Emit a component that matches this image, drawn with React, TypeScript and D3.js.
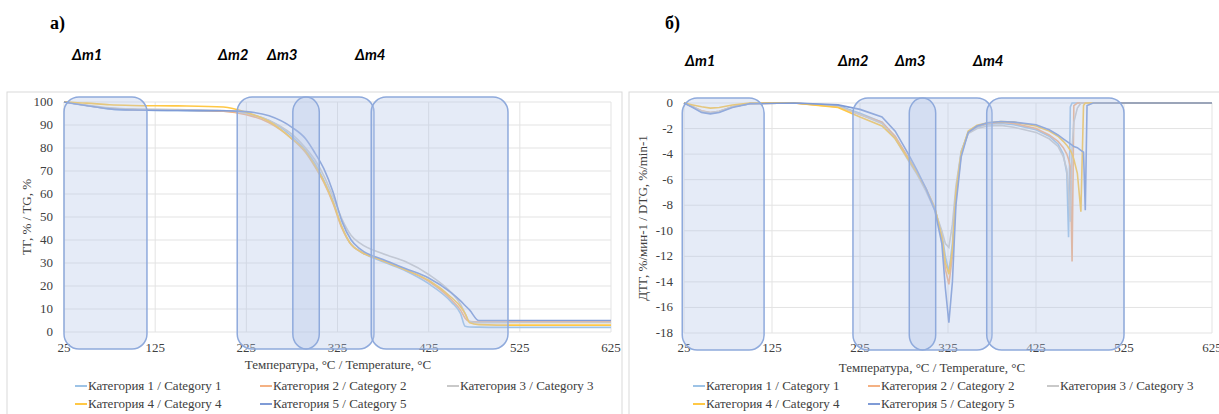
import * as d3 from 'd3';

// TG curves (left panel)
const tgTemps = [25, 50, 75, 100, 150, 200, 225, 250, 275, 290, 300, 310, 320, 330, 340, 350, 375, 400, 425, 450, 460, 465, 470, 480, 500, 550, 625];
const tgCat1 = [100, 98.5, 97, 96.5, 96.3, 96, 95, 92, 85, 79, 73.5, 66, 57, 45.5, 38, 35, 30.5, 26.5, 21, 13, 8, 2.5, 2.2, 2.1, 2, 2, 2];
const tgCat2 = [100, 98.5, 97.2, 96.7, 96.5, 96, 94.5, 91, 84, 78, 72, 65, 56, 45, 38, 35, 31, 27, 22, 14, 9.5, 6, 4.5, 4.3, 4.3, 4.3, 4.3];
const tgCat3 = [100, 98.6, 97.5, 97, 96.7, 96.3, 95, 92, 86, 80, 75, 68, 59, 49, 42, 38.5, 34, 30.5, 25, 17, 12, 8, 4.5, 4, 4, 4, 4];
const tgCat4 = [100, 99.5, 98.8, 98.5, 98.3, 97.8, 95.5, 91.5, 84, 78.5, 72.5, 65.5, 56.5, 45.5, 38, 35, 31, 27, 22.5, 15, 11, 8, 4, 3.2, 3, 3, 3];
const tgCat5 = [100, 98.4, 97, 96.5, 96.3, 96.2, 95.8, 94, 89, 84, 78, 71, 61, 48, 40, 36, 31.5, 27.5, 23.5, 17, 13.5, 11.5, 9.5, 5, 5, 5, 5];

// DTG curves (right panel)
const dtgTemps = [25, 35, 45, 55, 65, 80, 100, 150, 200, 225, 250, 265, 280, 290, 300, 310, 318, 322, 326, 330, 334, 340, 348, 358, 370, 385, 400, 425, 440, 450, 456, 460, 462, 464, 466, 468, 472, 476, 479, 481, 483, 490, 625];
const dtgCat1 = [0, -0.3, -0.7, -0.8, -0.7, -0.3, -0.05, 0, -0.2, -0.8, -1.5, -2.7, -4.3, -5.5, -6.8, -8.3, -10.2, -12, -13.2, -11, -7, -3.8, -2.3, -1.9, -1.65, -1.6, -1.7, -2.1, -2.6, -3.2, -4, -5.5, -10.5, -0.3, 0, 0, 0, 0, 0, 0, 0, 0, 0];
const dtgCat2 = [0, -0.3, -0.6, -0.75, -0.65, -0.3, -0.05, 0, -0.3, -0.9, -1.5, -2.6, -4.3, -5.5, -6.7, -8.2, -10.6, -13, -14.2, -12, -7.5, -4, -2.3, -1.8, -1.6, -1.5, -1.6, -2, -2.5, -3, -3.5, -4, -4.4, -5, -12.4, -0.2, 0, 0, 0, 0, 0, 0, 0];
const dtgCat3 = [0, -0.3, -0.65, -0.75, -0.65, -0.3, -0.05, 0, -0.25, -0.9, -1.6, -2.8, -4.5, -5.6, -6.9, -8.4, -10, -11, -11.3, -9.5, -6.5, -3.8, -2.4, -2, -1.8, -1.75, -1.9, -2.3, -2.8, -3.4, -4.2, -5.2, -7, -9.3, -3.5, -1.5, -0.4, 0, 0, 0, 0, 0, 0];
const dtgCat4 = [0, -0.15, -0.3, -0.4, -0.35, -0.15, 0, 0, -0.35, -1.1, -1.8, -2.8, -4.4, -5.5, -6.7, -8.2, -10.5, -12.5, -13.4, -11.5, -7, -3.9, -2.2, -1.75, -1.55, -1.45, -1.5, -1.8, -2.2, -2.6, -3, -3.3, -3.5, -3.7, -4, -4.4, -5.5, -8.5, -0.2, 0, 0, 0, 0];
const dtgCat5 = [0, -0.35, -0.75, -0.85, -0.75, -0.35, -0.05, 0, -0.15, -0.5, -1.1, -2.2, -4, -5.3, -6.7, -8.4, -11, -14.5, -17.2, -14, -8, -4.2, -2.3, -1.8, -1.55, -1.45, -1.5, -1.7, -2.1, -2.5, -2.8, -3, -3.1, -3.2, -3.3, -3.4, -3.5, -3.7, -3.85, -8.4, -0.2, 0, 0];

const xTicks = [25, 125, 225, 325, 425, 525, 625];
const tgTicks = [0, 10, 20, 30, 40, 50, 60, 70, 80, 90, 100];
const dtgTicks = [0, -2, -4, -6, -8, -10, -12, -14, -16, -18];

const seriesNames = ['Категория 1 / Category 1', 'Категория 2 / Category 2', 'Категория 3 / Category 3', 'Категория 4 / Category 4', 'Категория 5 / Category 5'];
const seriesColors = ['#9dc3e6', '#f4b183', '#c9c9c9', '#ffc845', '#7f9bd6'];

// mass-loss stage zones, °C
const stageLabels = ['Δm1', 'Δm2', 'Δm3', 'Δm4'];
const tgZones = [[25, 116], [215, 365], [276, 305], [362, 512]];
const dtgZones = [[23, 116], [217, 375], [281, 311], [369, 525]];

const serif = { fontFamily: 'Liberation Serif, DejaVu Serif, serif' };
const TXT = '#404040';

function Panel({ left, top, x0, x1, y0, y1, yDomain, yTicks, temps, series, zones, curve, letter, letterX, labelXs, labelY, yTitle, yTitleX, xTitleX, xTitleY, legendXs }) {
  const x = d3.scaleLinear().domain([25, 625]).range([x0, x1]);
  const y = d3.scaleLinear().domain(yDomain).range([y1, y0]);
  const line = d3.line<number>().x((_, i) => x(temps[i])).y(d => y(d)).curve(curve);
  const legendRows = [0, 0, 0, 1, 1];
  const legendCols = [0, 1, 2, 0, 1];
  return (
    <g>
      <rect x={left} y={top} width={615} height={400} fill="#fff" stroke="#d9d9d9" />
      <text x={letterX} y={29} style={serif} fontWeight="bold" fontSize={18} fill="#000">{letter}</text>
      {stageLabels.map((s, i) => (
        <text key={s} x={labelXs[i]} y={labelY} style={{ fontFamily: 'Lato, Open Sans, sans-serif' }} fontStyle="italic" fontWeight="bold" fontSize={15} fill="#000">{s}</text>
      ))}
      {yTicks.map(t => (
        <g key={t}>
          <line x1={x0} x2={x1} y1={y(t)} y2={y(t)} stroke="#e3e3e3" />
          <text x={x0 - 11} y={y(t) + 4} textAnchor="end" style={serif} fontSize={13} fill={TXT}>{t}</text>
        </g>
      ))}
      {xTicks.map(t => (
        <g key={t}>
          <line x1={x(t)} x2={x(t)} y1={y0} y2={y1} stroke="#e3e3e3" />
          <text x={x(t)} y={352} textAnchor="middle" style={serif} fontSize={13} fill={TXT}>{t}</text>
        </g>
      ))}
      {series.map((s, i) => (
        <path key={i} d={line(s) || ''} fill="none" stroke={seriesColors[i]} strokeWidth={1.6} />
      ))}
      {zones.map(([a, b], i) => {
        const w = x(b) - x(a);
        return (
          <rect key={i} x={x(a)} y={y0 - 5} width={w} height={y1 - y0 + 22} rx={Math.min(15, w / 2)} ry={15}
            fill="rgba(180,199,231,0.35)" stroke="#8faadc" strokeWidth={1.5} />
        );
      })}
      <text x={xTitleX} y={xTitleY} textAnchor="middle" style={serif} fontSize={13} fill={TXT}>Температура, °C / Temperature, °C</text>
      <text transform={`translate(${yTitleX},${(y0 + y1) / 2}) rotate(-90)`} textAnchor="middle" style={serif} fontSize={13} fill={TXT}>{yTitle}</text>
      {seriesNames.map((n, i) => {
        const lx = legendXs[legendCols[i]];
        const ly = 386 + legendRows[i] * 18;
        return (
          <g key={n}>
            <line x1={lx} x2={lx + 12} y1={ly} y2={ly} stroke={seriesColors[i]} strokeWidth={2} />
            <text x={lx + 13} y={ly + 4} style={serif} fontSize={13} fill={TXT}>{n}</text>
          </g>
        );
      })}
    </g>
  );
}

export default function App() {
  return (
    <svg width={1219} height={414} style={{ position: 'absolute', left: 0, top: 0, background: '#fff' }}>
      <Panel left={7} top={92} x0={64} x1={611} y0={102} y1={332} yDomain={[0, 100]} yTicks={tgTicks}
        temps={tgTemps} series={[tgCat1, tgCat2, tgCat3, tgCat4, tgCat5]} zones={tgZones} curve={d3.curveMonotoneX}
        letter="а)" letterX={50} labelXs={[72, 218, 267, 355]} labelY={60}
        yTitle="ТГ, % / TG, %" yTitleX={31} xTitleX={338} xTitleY={369} legendXs={[75, 260, 447]} />
      <Panel left={629} top={92} x0={684} x1={1212} y0={103} y1={333} yDomain={[-18, 0]} yTicks={dtgTicks}
        temps={dtgTemps} series={[dtgCat1, dtgCat2, dtgCat3, dtgCat4, dtgCat5]} zones={dtgZones} curve={d3.curveLinear}
        letter="б)" letterX={665} labelXs={[685, 838, 895, 973]} labelY={66}
        yTitle="ДТГ, %/мин-1 / DTG, %/min-1" yTitleX={647} xTitleX={932} xTitleY={372} legendXs={[693, 868, 1047]} />
    </svg>
  );
}
